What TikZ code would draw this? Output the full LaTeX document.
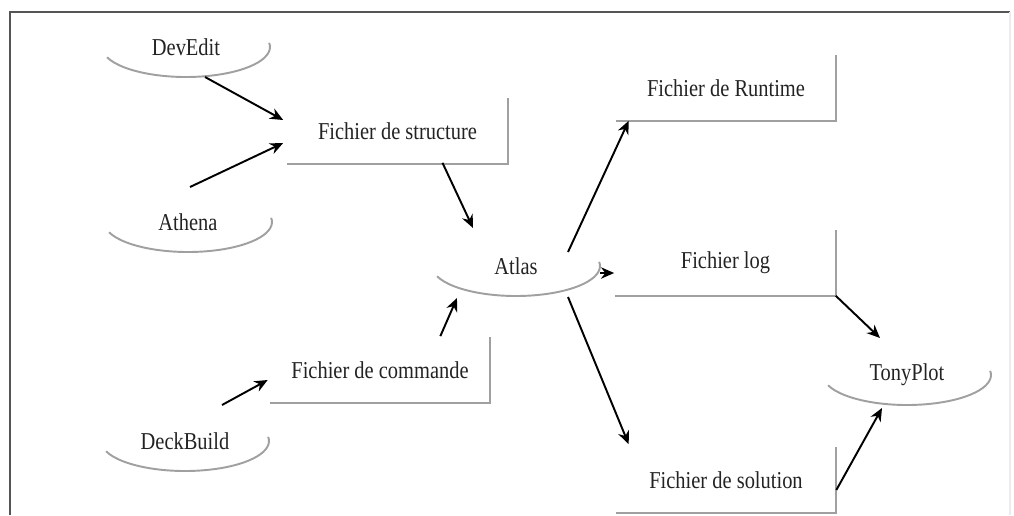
\documentclass[tikz,border=0pt]{standalone}
\usepackage{fontspec}
\setmainfont{Liberation Serif}
\usetikzlibrary{arrows.meta, shapes.geometric, calc}
\definecolor{framegray}{RGB}{85,85,85}
\definecolor{edgegray}{RGB}{160,160,160}
\definecolor{inkgray}{RGB}{35,35,35}
\newcommand{\tall}[1]{\scalebox{0.97}[1.15]{#1}}

\begin{document}
\begin{tikzpicture}[x=0.02cm, y=-0.02cm,
    every node/.style={font=\fontsize{12}{14}\selectfont, text=inkgray},
    tool/.style={ellipse, minimum width=3.36cm, minimum height=1.2cm, inner sep=0pt},
    filebox/.style={rectangle, minimum width=4.4cm, minimum height=1.3cm, inner sep=0pt},
    link/.style={-{Stealth[length=7.5pt,width=6.5pt]}, line width=1.1pt}]
    \useasboundingbox (0,0) rectangle (1014,515);

    % Frame
    \draw[framegray, line width=1.6pt] (10,515) -- (10,12) -- (1010,12);
    \draw[gray!15, line width=0.6pt] (1010,12) -- (1010,515);

    % Tools (ovals)
    \node[tool] (devedit) at (186,47) {\tall{DevEdit}};
    \node[tool] (athena) at (188,222) {\tall{Athena}};
    \node[tool] (deckbuild) at (185,441) {\tall{DeckBuild}};
    \node[tool] (atlas) at (516,266) {\tall{Atlas}};
    \node[tool] (tonyplot) at (907,375) {\tall{TonyPlot}};

    % Files (boxes)
    \node[filebox] (structure) at (397.5,131) {\tall{Fichier de structure}};
    \node[filebox] (commande) at (380,370) {\tall{Fichier de commande}};
    \node[filebox] (runtime) at (726,88) {\tall{Fichier de Runtime}};
    \node[filebox] (log) at (725.5,263) {\tall{Fichier log}};
    \node[filebox] (solution) at (726,480) {\tall{Fichier de solution}};

    % Lower arc of each oval
    \foreach \t in {devedit, athena, deckbuild, atlas, tonyplot}
        \draw[edgegray, line width=1.1pt] ([shift={(200:1.68cm and 0.6cm)}]\t.center)
            arc[start angle=200, end angle=368, x radius=1.68cm, y radius=0.6cm];

    % Right and bottom edges of each box
    \foreach \f in {structure, commande, runtime, log, solution}
        \draw[edgegray, line width=1.1pt] (\f.north east) -- (\f.south east) -- (\f.south west);

    % Arrows
    \draw[link] ([shift={(19,30)}]devedit.center) -- ([shift={(-4,-11)}]structure.west);
    \draw[link] ([shift={(2,-35)}]athena.center) -- ([shift={(-4,12)}]structure.west);
    \draw[link] ([shift={(45,-1)}]structure.south) -- ([shift={(-43,-38)}]atlas.center);
    \draw[link] ([shift={(37,-36)}]deckbuild.center) -- ([shift={(-2,10)}]commande.west);
    \draw[link] ([shift={(-50,-1)}]commande.north east) -- ([shift={(-59,32)}]atlas.center);
    \draw[link] ([shift={(52,-14)}]atlas.center) -- ([shift={(13,0)}]runtime.south west);
    \draw[link] ([shift={(84,7)}]atlas.center) -- ([shift={(-1,10)}]log.west);
    \draw[link] ([shift={(52,31)}]atlas.center) -- ([shift={(13,-3)}]solution.north west);
    \draw[link] (log.south east) -- ([shift={(-27,-37)}]tonyplot.center);
    \draw[link] ([shift={(0,10)}]solution.east) -- ([shift={(-25,33)}]tonyplot.center);
\end{tikzpicture}
\end{document}
